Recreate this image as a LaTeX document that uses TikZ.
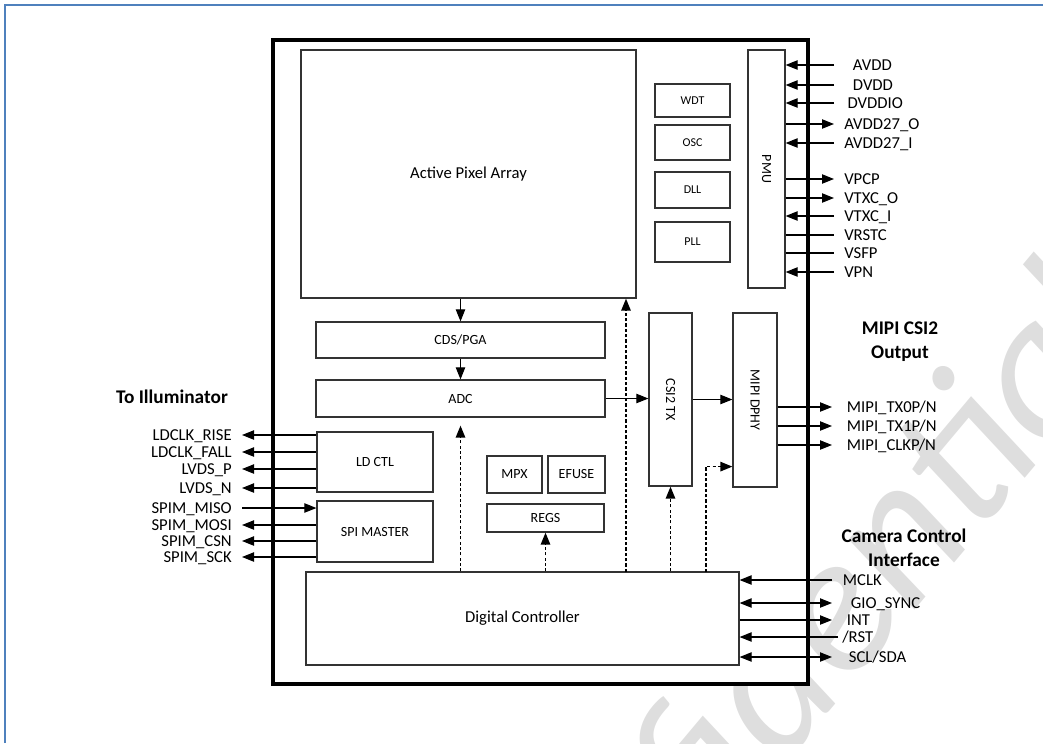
\documentclass[tikz,border=0pt]{standalone}
\usepackage{fontspec}
\setmainfont{Carlito}
\usetikzlibrary{arrows.meta,fit}

\definecolor{frameblue}{RGB}{79,129,189}

\begin{document}
\begin{tikzpicture}[x=0.75pt,y=-0.75pt]
    % Define styles
    \tikzstyle{blk} = [rectangle, draw=black!80, line width=0.9pt, fill=white, inner sep=0pt]
    \tikzstyle{chipbox} = [rectangle, draw=black, line width=2.4pt, fill=white, inner sep=0pt]
    \tikzstyle{txt} = [inner sep=0pt, font=\fontsize{10.5}{12}\selectfont]
    \tikzstyle{bigtxt} = [txt, font=\fontsize{12.5}{14}\selectfont]
    \tikzstyle{smalltxt} = [txt, font=\fontsize{9}{11}\selectfont]

    \tikzstyle{pinl} = [anchor=east, inner xsep=7.5pt, inner ysep=0pt, text height=9pt, text depth=1.1pt, font=\fontsize{12.5}{14}\selectfont]
    \tikzstyle{pinr} = [pinl, anchor=west]
    \tikzstyle{head} = [align=center, font=\bfseries\fontsize{14.5}{18}\selectfont]

    \tikzstyle{wire} = [line width=0.8pt]
    \tikzstyle{sig} = [wire, -{Triangle[length=9pt,width=7pt]}]
    \tikzstyle{bisig} = [wire, {Triangle[length=9pt,width=7pt]}-{Triangle[length=9pt,width=7pt]}]
    \tikzstyle{ctl} = [line width=1.3pt, dash pattern=on 2.4pt off 1.6pt, -{Triangle[length=9pt,width=7pt]}]

    \useasboundingbox (0,0) rectangle (1043,743);
    \draw[frameblue, line width=1.6pt] (5,743) -- (5,5) -- (1043,5);

    % Watermark
    \node[rotate=50, text=black!13, font=\itshape\fontsize{150}{150}\selectfont] (mark) at (785,675) {Confidential};

    % Chip outline
    \node[chipbox, fit={(273,40) (808,684)}] (chip) {};

    % Blocks
    \node[blk, fit={(301,50) (636,298)}] (apa) {};
    \node[bigtxt] (apatxt) at (apa) {Active Pixel Array};
    \node[blk, fit={(655,84) (730,117)}] (wdt) {};
    \node[smalltxt] (wdttxt) at (wdt) {WDT};
    \node[blk, fit={(655,125) (730,160)}] (osc) {};
    \node[smalltxt] (osctxt) at (osc) {OSC};
    \node[blk, fit={(655,172) (730,208)}] (dll) {};
    \node[smalltxt] (dlltxt) at (dll) {DLL};
    \node[blk, fit={(655,222) (730,262)}] (pll) {};
    \node[smalltxt] (plltxt) at (pll) {PLL};
    \node[blk, fit={(748,50) (785,288)}] (pmu) {};
    \node[txt, rotate=-90] (pmutxt) at (pmu) {PMU};

    \node[blk, fit={(316,322) (605,358)}] (cds) {};
    \node[txt] (cdstxt) at (cds) {CDS/PGA};
    \node[blk, fit={(316,380) (605,417)}] (adc) {};
    \node[txt] (adctxt) at (adc) {ADC};
    \node[blk, fit={(649,313) (692,486)}] (csi) {};
    \node[txt, rotate=-90] (csitxt) at (csi) {CSI2 TX};
    \node[blk, fit={(733,313) (777,487)}] (dphy) {};
    \node[txt, rotate=-90] (dphytxt) at (dphy) {MIPI DPHY};

    \node[blk, fit={(317,432) (433,492)}] (ldctl) {};
    \node[txt] (ldctltxt) at (ldctl) {LD CTL};
    \node[blk, fit={(317,501) (433,562)}] (spi) {};
    \node[txt] (spitxt) at (spi) {SPI MASTER};
    \node[blk, fit={(487,456) (542,493)}] (mpx) {};
    \node[txt] (mpxtxt) at (mpx) {MPX};
    \node[blk, fit={(548,456) (605,493)}] (efuse) {};
    \node[txt] (efusetxt) at (efuse) {EFUSE};
    \node[blk, fit={(487,504) (604,532)}] (regs) {};
    \node[txt] (regstxt) at (regs) {REGS};
    \node[blk, fit={(306,572) (739,665)}] (dc) {};
    \node[bigtxt] (dctxt) at (dc) {Digital Controller};

    % Data path
    \draw[sig] (cds.north |- apa.south) -- (cds.north);
    \draw[sig] (cds.south) -- (adc.north);
    \draw[sig] (adc.east) -- (csi.west |- adc.east);
    \draw[sig] (csi.east) -- (dphy.west |- csi.east);

    % Control lines
    \coordinate (tapA) at (626,572);
    \coordinate (tapD) at (706,572);
    \draw[ctl, shorten >=6pt] (adc.south |- dc.north) -- (adc.south);
    \draw[ctl] (tapA) -- (tapA |- apa.south);
    \draw[ctl] (regs.south |- dc.north) -- (regs.south);
    \draw[ctl] (csi.south |- dc.north) -- (csi.south);
    \draw[ctl] (tapD) |- ([yshift=15.75pt]dphy.south west);

    % Power pins
    \node[pinr, inner xsep=14pt] (avdd) at (834,65) {AVDD};
    \node[pinr, inner xsep=14pt] (dvdd) at (834,85) {DVDD};
    \node[pinr, inner xsep=10pt] (dvddio) at (834,103) {DVDDIO};
    \node[pinr] (avddo) at (834,124) {AVDD27\_O};
    \node[pinr] (avddi) at (834,143) {AVDD27\_I};
    \node[pinr] (vpcp) at (834,179) {VPCP};
    \node[pinr] (vtxco) at (834,198) {VTXC\_O};
    \node[pinr] (vtxci) at (834,216) {VTXC\_I};
    \node[pinr] (vrstc) at (834,235) {VRSTC};
    \node[pinr] (vsfp) at (834,253) {VSFP};
    \node[pinr] (vpn) at (834,272) {VPN};

    \draw[sig] (avdd.west) -- (pmu.east |- avdd);
    \draw[sig] (dvdd.west) -- (pmu.east |- dvdd);
    \draw[sig] (dvddio.west) -- (pmu.east |- dvddio);
    \draw[sig] (pmu.east |- avddo) -- (avddo.west);
    \draw[sig] (avddi.west) -- (pmu.east |- avddi);
    \draw[sig] (pmu.east |- vpcp) -- (vpcp.west);
    \draw[sig] (pmu.east |- vtxco) -- (vtxco.west);
    \draw[sig] (vtxci.west) -- (pmu.east |- vtxci);
    \draw[wire] (pmu.east |- vrstc) -- (vrstc.west);
    \draw[wire] (pmu.east |- vsfp) -- (vsfp.west);
    \draw[sig] (vpn.west) -- (pmu.east |- vpn);

    % MIPI output
    \node[head] (mipihd) at (900,342) {MIPI CSI2\\Output};
    \node[pinr, inner xsep=11pt] (tx0) at (832,407) {MIPI\_TX0P/N};
    \node[pinr, inner xsep=11pt] (tx1) at (832,426) {MIPI\_TX1P/N};
    \node[pinr, inner xsep=11pt] (clk) at (832,445) {MIPI\_CLKP/N};
    \draw[sig] (dphy.east |- tx0) -- (tx0.west);
    \draw[sig] (dphy.east |- tx1) -- (tx1.west);
    \draw[sig] (dphy.east |- clk) -- (clk.west);

    % Illuminator side
    \node[head] (illum) at (172,397) {To Illuminator};
    \node[pinl] (ldrise) at (242,435) {LDCLK\_RISE};
    \node[pinl] (ldfall) at (242,452) {LDCLK\_FALL};
    \node[pinl] (lvdsp) at (242,469) {LVDS\_P};
    \node[pinl] (lvdsn) at (242,488) {LVDS\_N};
    \node[pinl] (miso) at (242,508) {SPIM\_MISO};
    \node[pinl] (mosi) at (242,525) {SPIM\_MOSI};
    \node[pinl] (csn) at (242,541) {SPIM\_CSN};
    \node[pinl] (sck) at (242,557) {SPIM\_SCK};

    \draw[sig] (ldctl.west |- ldrise) -- (ldrise.east);
    \draw[sig] (ldctl.west |- ldfall) -- (ldfall.east);
    \draw[sig] (ldctl.west |- lvdsp) -- (lvdsp.east);
    \draw[sig] (ldctl.west |- lvdsn) -- (lvdsn.east);
    \draw[sig] (miso.east) -- (spi.west |- miso);
    \draw[sig] (spi.west |- mosi) -- (mosi.east);
    \draw[sig] (spi.west |- csn) -- (csn.east);
    \draw[sig] (spi.west |- sck) -- (sck.east);

    % Camera control interface
    \node[head] (camhd) at (904,548) {Camera Control\\Interface};
    \node[pinr, inner xsep=8pt] (mclk) at (832,580) {MCLK};
    \node[pinr, inner xsep=14pt] (gio) at (832,603) {GIO\_SYNC};
    \node[pinr, inner xsep=11pt] (intp) at (832,620) {INT};
    \node[pinr, inner xsep=3pt] (rst) at (838,637) {/RST};
    \node[pinr, inner xsep=12.5pt] (scl) at (832,657) {SCL/SDA};

    \draw[sig] (mclk.west) -- (dc.east |- mclk);
    \draw[bisig] (dc.east |- gio) -- (gio.west);
    \draw[sig] (dc.east |- intp) -- (intp.west);
    \draw[sig] (rst.west) -- (dc.east |- rst);
    \draw[bisig] (dc.east |- scl) -- (scl.west);

\end{tikzpicture}
\end{document}
